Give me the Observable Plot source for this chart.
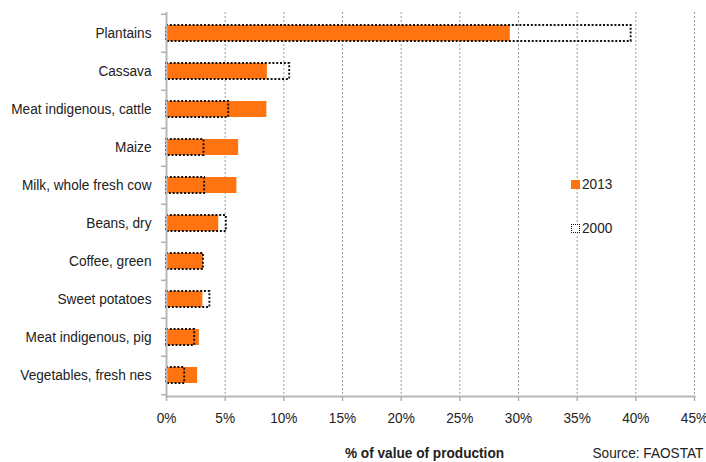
<!DOCTYPE html>
<html>
<head>
<meta charset="utf-8">
<script src="https://cdn.jsdelivr.net/npm/d3@7"></script>
<script src="https://cdn.jsdelivr.net/npm/@observablehq/plot@0.6"></script>
<style>
  html, body { margin: 0; padding: 0; background: #fff; }
  #wrap { position: relative; width: 706px; height: 462px; overflow: hidden; font-family: "Liberation Sans", Arial, sans-serif; color: #222; }
  .leg { position: absolute; font-size: 15.5px; line-height: 18px; transform: scaleX(0.88); transform-origin: left center; }
  .sw { position: absolute; width: 9px; height: 9px; box-sizing: border-box; }
</style>
</head>
<body>
<div id="wrap"></div>
<script>
const categories = ["Plantains","Cassava","Meat indigenous, cattle","Maize","Milk, whole fresh cow","Beans, dry","Coffee, green","Sweet potatoes","Meat indigenous, pig","Vegetables, fresh nes"];
const v2013 = [29.3, 8.6, 8.55, 6.15, 6.0, 4.45, 3.15, 3.1, 2.8, 2.65];
const v2000 = [39.6, 10.5, 5.3, 3.2, 3.25, 5.1, 3.15, 3.7, 2.4, 1.55];
const xTicks = [0,5,10,15,20,25,30,35,40,45];
const xLabel = "% of value of production";
const sourceText = "Source: FAOSTAT";
const series = ["2013","2000"];

const rows13 = categories.map((c,i) => ({cat: c, value: v2013[i]}));
const rows00 = categories.map((c,i) => ({cat: c, value: v2000[i]}));

const orange = "#ff7410";
const font = "'Liberation Sans', Arial, sans-serif";
const fs = 15.5;

const plot = Plot.plot({
  width: 706,
  height: 462,
  marginLeft: 166,
  marginRight: 12,
  marginTop: 12,
  marginBottom: 66,
  style: {fontFamily: font, fontSize: fs + "px", color: "#222", background: "#fff"},
  x: {domain: [0,45], ticks: xTicks, label: null},
  y: {domain: categories, paddingInner: 0.58, paddingOuter: 0.29, label: null},
  marks: [
    Plot.gridX(xTicks, {stroke: "#9a9a9a", strokeOpacity: 1, strokeWidth: 1, strokeDasharray: "2,2"}),
    Plot.barX(rows13, {y: "cat", x: "value", fill: orange}),
    Plot.barX(rows00, {y: "cat", x: "value", fill: "none", stroke: "#111", strokeWidth: 1.9, strokeDasharray: "2,1.8"}),
    Plot.ruleX([0], {stroke: "#b8b8b8", strokeWidth: 2}),
    Plot.frame({anchor: "bottom", stroke: "#b8b8b8", strokeWidth: 2}),
    Plot.axisX(xTicks, {tickSize: 5, text: null, stroke: "#b0b0b0", strokeWidth: 1.5}),
    Plot.axisX(xTicks, {tickSize: 0, tickPadding: 15, tickFormat: d => d + "%", fontSize: fs, fill: "#222"}),
    Plot.axisY({tickSize: 0, tickPadding: 15, fontSize: fs, fill: "#222"}),
    Plot.axisY({text: null, tickSize: 5, stroke: "#b0b0b0", strokeWidth: 1.5, dy: -19.2}),
    Plot.axisY([categories[categories.length-1]], {text: null, tickSize: 5, stroke: "#b0b0b0", strokeWidth: 1.5, dy: 19.2}),
    Plot.text([xLabel], {frameAnchor: "bottom", dy: 61, dx: -6, fontWeight: "bold", fontSize: fs, fill: "#222"}),
    Plot.text([sourceText], {frameAnchor: "bottom-right", dy: 61, dx: -102, textAnchor: "start", fontSize: fs, fill: "#222"})
  ]
});

const wrap = document.getElementById("wrap");
wrap.appendChild(plot);

// condense glyphs horizontally to mimic the narrow font of the reference
plot.querySelectorAll("text").forEach(t => {
  const len = t.getComputedTextLength();
  if (len > 0) {
    t.setAttribute("textLength", (len * 0.88).toFixed(2));
    t.setAttribute("lengthAdjust", "spacingAndGlyphs");
  }
});

// legend
const leg = [
  {label: series[0], top: 179, style: `background:${orange};`},
  {label: series[1], top: 223, style: "border:1.6px dotted #111;background:#fff;"}
];
for (const l of leg) {
  const sw = document.createElement("div");
  sw.className = "sw";
  sw.style.cssText = `left:571px;top:${l.top + 1}px;` + l.style;
  wrap.appendChild(sw);
  const t = document.createElement("div");
  t.className = "leg";
  t.style.left = "582px";
  t.style.top = (l.top - 4) + "px";
  t.textContent = l.label;
  wrap.appendChild(t);
}
</script>
</body>
</html>
